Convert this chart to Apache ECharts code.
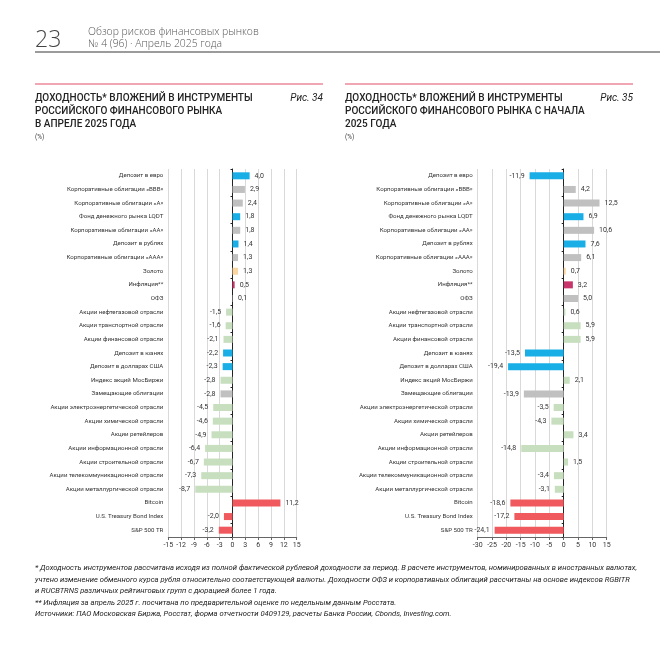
<!DOCTYPE html>
<html><head><meta charset="utf-8">
<script src="https://cdn.jsdelivr.net/npm/echarts@6/dist/echarts.min.js"></script>
<style>html,body{margin:0;padding:0;background:#fff}#c{width:660px;height:655px}</style>
</head><body><div id="c"></div>
<script>
const categories = [
 'Депозит в евро','Корпоративные облигации «BBB»','Корпоративные облигации «A»','Фонд денежного рынка LQDT',
 'Корпоративные облигации «AA»','Депозит в рублях','Корпоративные облигации «AAA»','Золото','Инфляция**','ОФЗ',
 'Акции нефтегазовой отрасли','Акции транспортной отрасли','Акции финансовой отрасли','Депозит в юанях',
 'Депозит в долларах США','Индекс акций МосБиржи','Замещающие облигации','Акции электроэнергетической отрасли',
 'Акции химической отрасли','Акции ретейлеров','Акции информационной отрасли','Акции строительной отрасли',
 'Акции телекоммуникационной отрасли','Акции металлургической отрасли','Bitcoin','U.S. Treasury Bond Index','S&P 500 TR'
];
const groups = ['dep','bond','bond','dep','bond','dep','bond','gold','infl','bond',
 'stock','stock','stock','dep','dep','stock','bond','stock','stock','stock','stock','stock','stock','stock','foreign','foreign','foreign'];
const aprilValues = [4.0,2.9,2.4,1.8,1.8,1.4,1.3,1.3,0.5,0.1,-1.5,-1.6,-2.1,-2.2,-2.3,-2.8,-2.8,-4.5,-4.6,-4.9,-6.4,-6.7,-7.3,-8.7,11.2,-2.0,-3.2];
const ytdValues = [-11.9,4.2,12.5,6.9,10.6,7.6,6.1,0.7,3.2,5.0,0.6,5.9,5.9,-13.5,-19.4,2.1,-13.9,-3.5,-4.3,3.4,-14.8,1.5,-3.4,-3.1,-18.6,-17.2,-24.1];
const leftTicks = {min:-15,max:15,interval:3};
const rightTicks = {min:-30,max:15,interval:5};

const colorMap = {dep:'#1aaee6',bond:'#c0c0c0',gold:'#f9d6a2',infl:'#c8356b',stock:'#c8dfbf',foreign:'#f05a5e'};
const NF = "Roboto,'DejaVu Sans Condensed',sans-serif";

function mkData(vals){
  return vals.map((v,i)=>({value:v,itemStyle:{color:colorMap[groups[i]]},
    label:{position:v<0?'left':'right'}}));
}
function fmt(p){return p.value.toFixed(1).replace('.',',');}

const chart = echarts.init(document.getElementById('c'),null,{renderer:'canvas'});
const gridTop=169, gridBottom=118;
function xAx(gi,t){return {gridIndex:gi,type:'value',min:t.min,max:t.max,interval:t.interval,
  axisLine:{show:true,lineStyle:{color:'#666',width:1}},axisTick:{show:true,length:3,lineStyle:{color:'#666'}},
  axisLabel:{fontFamily:NF,fontSize:7,color:'#333',margin:5},
  splitLine:{show:true,lineStyle:{color:'#d9d9d9',width:1}}};}
function yLab(gi){return {gridIndex:gi,type:'category',data:categories,inverse:true,
  axisLine:{show:false,onZero:false},axisTick:{show:false},
  axisLabel:{fontFamily:NF,fontSize:6.1,color:'#333',margin:5},splitLine:{show:false}};}
function yZero(gi){return {gridIndex:gi,type:'category',data:categories,inverse:true,position:'left',
  axisLine:{show:true,onZero:true,lineStyle:{color:'#222',width:1}},axisTick:{show:true,length:2,lineStyle:{color:'#222'}},
  axisLabel:{show:false},splitLine:{show:false}};}
const labelStyle={show:true,fontFamily:NF,fontSize:7,color:'#333',distance:5,formatter:fmt};

const tx=(text,x,y,font,extra)=>Object.assign({type:'text',x:x,y:y,style:Object.assign({text:text,font:font,fill:'#222',textVerticalAlign:'middle'},extra||{})});
const TF="500 10px Roboto,sans-serif";
const FF="italic 7.6px Roboto,sans-serif";

chart.setOption({
  backgroundColor:'#fff',
  animation:false,
  grid:[
    {left:168.3,right:660-296.7,top:gridTop,bottom:gridBottom},
    {left:477.7,right:660-606.7,top:gridTop,bottom:gridBottom}
  ],
  xAxis:[xAx(0,leftTicks),xAx(1,rightTicks)],
  yAxis:[yLab(0),yZero(0),yLab(1),yZero(1)],
  series:[
    {type:'bar',xAxisIndex:0,yAxisIndex:0,data:mkData(aprilValues),barWidth:7,label:labelStyle},
    {type:'bar',xAxisIndex:1,yAxisIndex:2,data:mkData(ytdValues),barWidth:7,label:labelStyle}
  ],
  graphic:[
    tx('23',35,40,"300 23px 'Open Sans',sans-serif",{fill:'#444'}),
    tx('Обзор рисков финансовых рынков',88,32,"300 10.4px 'Open Sans',sans-serif",{fill:'#555'}),
    tx('№ 4 (96) · Апрель 2025 года',88,44,"300 10.4px 'Open Sans',sans-serif",{fill:'#555'}),
    {type:'line',shape:{x1:35,y1:52,x2:660,y2:52},style:{stroke:'#7a7a7a',lineWidth:1.5}},
    {type:'line',shape:{x1:35,y1:84,x2:323,y2:84},style:{stroke:'#f2a5b3',lineWidth:2}},
    {type:'line',shape:{x1:345,y1:84,x2:633,y2:84},style:{stroke:'#f2a5b3',lineWidth:2}},
    tx('ДОХОДНОСТЬ* ВЛОЖЕНИЙ В ИНСТРУМЕНТЫ',35,98,TF),
    tx('РОССИЙСКОГО ФИНАНСОВОГО РЫНКА',35,111,TF),
    tx('В АПРЕЛЕ 2025 ГОДА',35,124,TF),
    tx('(%)',35,137,"6.5px Roboto,sans-serif",{fill:'#444'}),
    tx('Рис. 34',323,98,"italic 10px Roboto,sans-serif",{textAlign:'right'}),
    tx('ДОХОДНОСТЬ* ВЛОЖЕНИЙ В ИНСТРУМЕНТЫ',345,98,TF),
    tx('РОССИЙСКОГО ФИНАНСОВОГО РЫНКА С НАЧАЛА',345,111,TF),
    tx('2025 ГОДА',345,124,TF),
    tx('(%)',345,137,"6.5px Roboto,sans-serif",{fill:'#444'}),
    tx('Рис. 35',633,98,"italic 10px Roboto,sans-serif",{textAlign:'right'}),
    tx('* Доходность инструментов рассчитана исходя из полной фактической рублевой доходности за период. В расчете инструментов, номинированных в иностранных валютах,',35,568,FF),
    tx('учтено изменение обменного курса рубля относительно соответствующей валюты. Доходности ОФЗ и корпоративных облигаций рассчитаны на основе индексов RGBITR',35,580,FF),
    tx('и RUCBTRNS различных рейтинговых групп с дюрацией более 1 года.',35,591,FF),
    tx('** Инфляция за апрель 2025 г. посчитана по предварительной оценке по недельным данным Росстата.',35,603,FF),
    tx('Источники: ПАО Московская Биржа, Росстат, форма отчетности 0409129, расчеты Банка России, Cbonds, Investing.com.',35,614,FF)
  ]
});
</script></body></html>
